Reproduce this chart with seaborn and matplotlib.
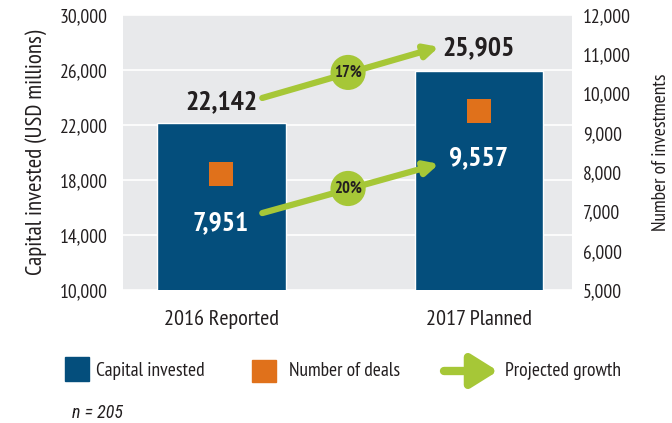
import numpy as np
import pandas as pd
import matplotlib
matplotlib.use("Agg")
import matplotlib.pyplot as plt
import matplotlib.patches as mpatches
import seaborn as sns

# data
periods = ["2016 Reported", "2017 Planned"]
capital = [22142, 25905]      # USD millions
deals = [7951, 9557]          # number of investments
n_resp = 205

BLUE = "#044e7c"
ORANGE = "#e0711b"
GREEN = "#a6c737"
GREY_BG = "#e8e9eb"
INK = "#231f20"

sns.set_style("white", {"axes.facecolor": GREY_BG})
plt.rcParams['font.family'] = ['PT Sans Narrow', 'Roboto Condensed', 'DejaVu Sans']

df = pd.DataFrame({"period": periods, "capital": capital, "deals": deals})

fig = plt.figure(figsize=(6.72, 4.23), dpi=100)
ax = fig.add_axes([0.183, 0.314, 0.668, 0.651])

sns.barplot(data=df, x="period", y="capital", color=BLUE, width=0.5,
            saturation=1, ax=ax, zorder=2)
ax.set_ylim(10000, 30000)
ax.set_yticks(np.arange(10000, 30001, 4000))
ax.set_yticklabels([f"{v:,}" for v in range(10000, 30001, 4000)])
ax.yaxis.grid(True, color="white", lw=1.2, zorder=0)
ax.set_axisbelow(True)
ax.set_xlim(-0.38, 1.36)
ax.set_xlabel("")
ax.set_ylabel("Capital invested (USD millions)", fontsize=16.5, labelpad=9, color=INK)
ax.tick_params(axis="y", length=0, labelsize=14, colors=INK, pad=11)
ax.tick_params(axis="x", length=0, labelsize=16, colors=INK, pad=14)
for s in ax.spines.values():
    s.set_visible(False)

ax2 = ax.twinx()
sns.scatterplot(data=df, x="period", y="deals", marker="s", s=300,
                color=ORANGE, edgecolor="none", ax=ax2, zorder=3)
ax2.set_ylim(5000, 12000)
ax2.set_yticks(np.arange(5000, 12001, 1000))
ax2.set_yticklabels([f"{v:,}" for v in range(5000, 12001, 1000)])
ax2.set_ylabel("Number of investments", fontsize=14, labelpad=15, color=INK)
ax2.tick_params(axis="y", length=0, labelsize=14, colors=INK, pad=8)
ax2.set_xlim(-0.38, 1.36)
for s in ax2.spines.values():
    s.set_visible(False)

# value labels
ax.text(0, capital[0] + 1500, f"{capital[0]:,}", ha="center", va="center",
        fontsize=20, fontweight="bold", color=INK)
ax.text(1, capital[1] + 1700, f"{capital[1]:,}", ha="center", va="center",
        fontsize=20, fontweight="bold", color=INK)
ax2.text(0, deals[0] - 1250, f"{deals[0]:,}", ha="center", va="center",
         fontsize=20, fontweight="bold", color="white")
ax2.text(1, deals[1] - 1200, f"{deals[1]:,}", ha="center", va="center",
         fontsize=20, fontweight="bold", color="white")

# growth arrows
def growth_arrow(axis, x0, y0, x1, y1, pct):
    axis.annotate("", xy=(x1, y1), xytext=(x0, y0),
                  arrowprops=dict(arrowstyle="-|>,head_length=0.8,head_width=0.4",
                                  color=GREEN, lw=4.5, shrinkA=0, shrinkB=0),
                  zorder=4)
    xm, ym = (x0 + x1) / 2 - 0.01, (y0 + y1) / 2
    axis.text(xm, ym, f"{pct:.0f}%", ha="center", va="center", fontsize=12,
              fontweight="bold", color=INK, zorder=6,
              bbox=dict(boxstyle="circle,pad=0.22", fc=GREEN, ec="none"))

g_cap = (capital[1] / capital[0] - 1) * 100
g_deal = (deals[1] / deals[0] - 1) * 100
growth_arrow(ax2, 0.16, 6960, 0.845, 8210, g_deal)
growth_arrow(ax, 0.16, 23960, 0.845, 27670, g_cap)

# legend row
fig.patches.append(mpatches.Rectangle((65/672, 1 - 381/423), 24/672, 24/423,
                                      transform=fig.transFigure, color=BLUE))
fig.text(96/672, 1 - 371/423, "Capital invested", fontsize=14, va="center",
         color=INK)
fig.patches.append(mpatches.Rectangle((252/672, 1 - 382/423), 24/672, 22/423,
                                      transform=fig.transFigure, color=ORANGE))
fig.text(289/672, 1 - 371/423, "Number of deals", fontsize=14, va="center",
         color=INK)
fig.patches.append(mpatches.FancyArrowPatch((444/672, 1 - 371/423), (498/672, 1 - 371/423),
                                            transform=fig.transFigure,
                                            arrowstyle="-|>,head_length=1.6,head_width=1.0",
                                            color=GREEN, lw=6, mutation_scale=10,
                                            shrinkA=0, shrinkB=0))
fig.text(505/672, 1 - 371/423, "Projected growth", fontsize=14, va="center",
         color=INK)
fig.text(72/672, 1 - 413/423, f"n = {n_resp}", fontsize=13, style="italic",
         family=['Roboto Condensed', 'DejaVu Sans'], va="center", color=INK)

fig.savefig("out.png", dpi=100)
